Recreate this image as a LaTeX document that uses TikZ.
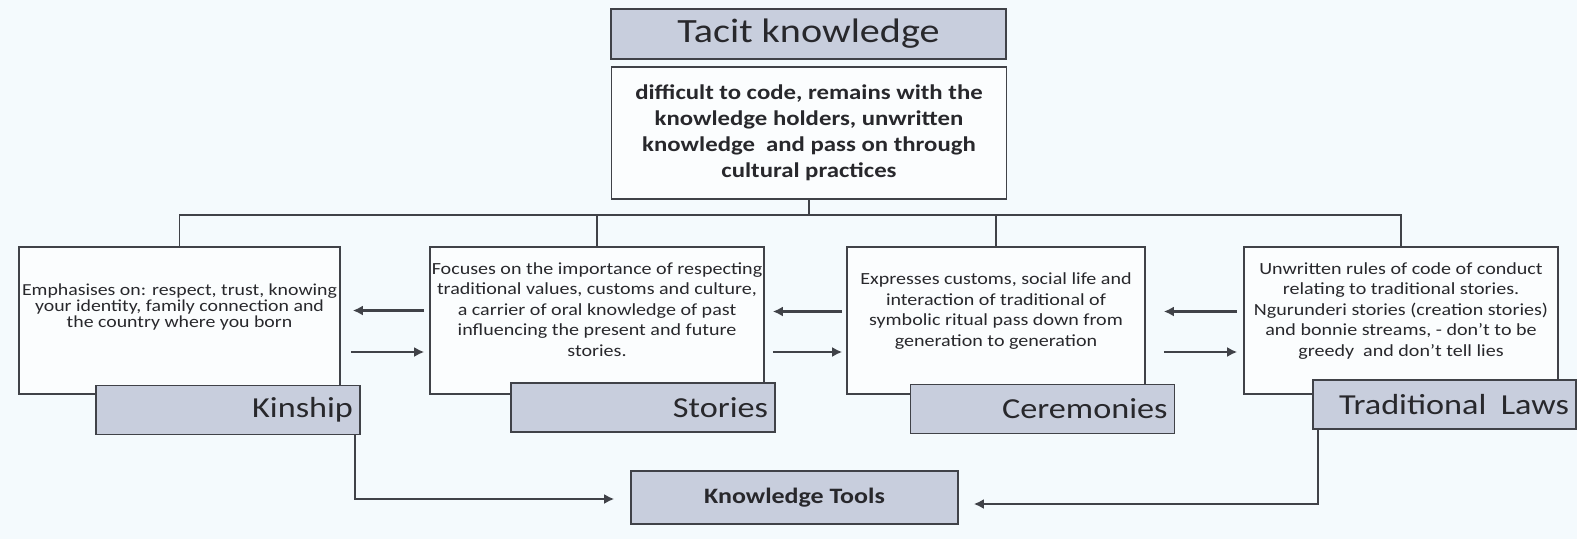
\documentclass[tikz,border=0pt]{standalone}
\usepackage{fontspec}
\setmainfont{Carlito}[FakeStretch=1.18]
\usepackage{xcolor}
\usepackage{tikz}
\usetikzlibrary{positioning, calc, arrows.meta}
\definecolor{paleback}{RGB}{244, 250, 253}
\definecolor{boxline}{RGB}{64, 66, 72}
\definecolor{tagfill}{RGB}{200, 206, 221}
\definecolor{bodytext}{RGB}{40, 40, 44}

\tikzset{
    plainbox/.style={draw=boxline, line width=1.6pt, fill=white!60!paleback,
        align=center, text=bodytext, inner sep=4pt},
    topicbox/.style={plainbox, inner xsep=0pt, minimum height=147pt, text depth=22pt,
        font=\fontsize{17}{20.5}\selectfont},
    tagbox/.style={draw=boxline, line width=1.6pt, fill=tagfill, text=bodytext,
        minimum height=49pt, text width=250pt, align=right, inner sep=7pt,
        font=\fontsize{29}{32}\selectfont},
    link/.style={draw=boxline, line width=1.6pt},
    flow/.style={link, line width=2.2pt, -{Latex[length=10pt, width=10pt]}}
}

\begin{document}
\begin{tikzpicture}[x=1pt, y=-1pt]
    \fill[paleback] (0,0) rectangle (1577,539);

    % header
    \node[plainbox, fill=tagfill, minimum width=395pt, minimum height=50pt,
          font=\fontsize{34}{40}\selectfont] (tacit) at (808.5,34) {Tacit knowledge};
    \node[plainbox, minimum width=395pt, minimum height=132pt,
          font=\fontsize{21}{26}\selectfont\bfseries] (desc) at (809,133)
        {difficult to code, remains with the\\knowledge holders, unwritten\\
         knowledge\ \ and pass on through\\cultural practices};

    % the four tools
    \node[topicbox, minimum width=321pt, text depth=30pt,
          font=\fontsize{16.8}{16}\selectfont] (kin) at (179.5,320.5)
        {Emphasises on: respect, trust, knowing\\your identity, family connection and\\
         the country where you born};
    \node[topicbox, minimum width=334pt] (sto) at (597,320.5)
        {Focuses on the importance of respecting\\traditional values, customs and culture,\\
         a carrier of oral knowledge of past\\influencing the present and future\\stories.};
    \node[topicbox, minimum width=298pt] (cer) at (996,320.5)
        {Expresses customs, social life and\\interaction of traditional of\\
         symbolic ritual pass down from\\generation to generation};
    \node[topicbox, minimum width=314pt] (law) at (1401,320.5)
        {Unwritten rules of code of conduct\\relating to traditional stories.\\
         Ngurunderi stories (creation stories)\\and bonnie streams, - don't to be\\
         greedy\ \ and don't tell lies};

    \node[tagbox] (kintag) at (228,410) {Kinship};
    \node[tagbox] (stotag) at (643,407.5) {Stories};
    \node[tagbox] (certag) at (1042.5,409) {Ceremonies};
    \node[tagbox, text width=249pt] (lawtag) at (1444.5,404.5) {Traditional\ \,Laws};

    \node[plainbox, fill=tagfill, minimum width=327pt, minimum height=53pt,
          font=\fontsize{22}{26}\selectfont\bfseries] (tools) at (794.5,497.5) {Knowledge Tools};

    % tree from the description
    \coordinate (bus) at (0,215);
    \draw[link] (desc.south) -- (desc.south |- bus);
    \draw[link] (kin.north) -- (kin.north |- bus) -- (law.north |- bus) -- (law.north);
    \draw[link] (sto.north) -- (sto.north |- bus);
    \draw[link] (cer.north) -- (cer.north |- bus);

    % arrows between neighbours
    \draw[flow, shorten <=5pt, shorten >=12pt] ([yshift=10pt]sto.west) -- ([yshift=10pt]kin.east);
    \draw[flow, shorten <=10pt, shorten >=5pt] ([yshift=-31.5pt]kin.east) -- ([yshift=-31.5pt]sto.west);
    \draw[flow, shorten <=4pt, shorten >=8pt] ([yshift=9pt]cer.west) -- ([yshift=9pt]sto.east);
    \draw[flow, shorten <=8pt, shorten >=4pt] ([yshift=-31.5pt]sto.east) -- ([yshift=-31.5pt]cer.west);
    \draw[flow, shorten <=6pt, shorten >=18pt] ([yshift=9pt]law.west) -- ([yshift=9pt]cer.east);
    \draw[flow, shorten <=18pt, shorten >=6pt] ([yshift=-31.5pt]cer.east) -- ([yshift=-31.5pt]law.west);

    % into the knowledge tools
    \draw[flow] ([xshift=-6pt]kintag.south east) |- ([xshift=-16pt,yshift=-1.5pt]tools.west);
    \draw[flow] ([xshift=6pt]lawtag.south west) |- ([xshift=15pt,yshift=-6.5pt]tools.east);
\end{tikzpicture}
\end{document}
